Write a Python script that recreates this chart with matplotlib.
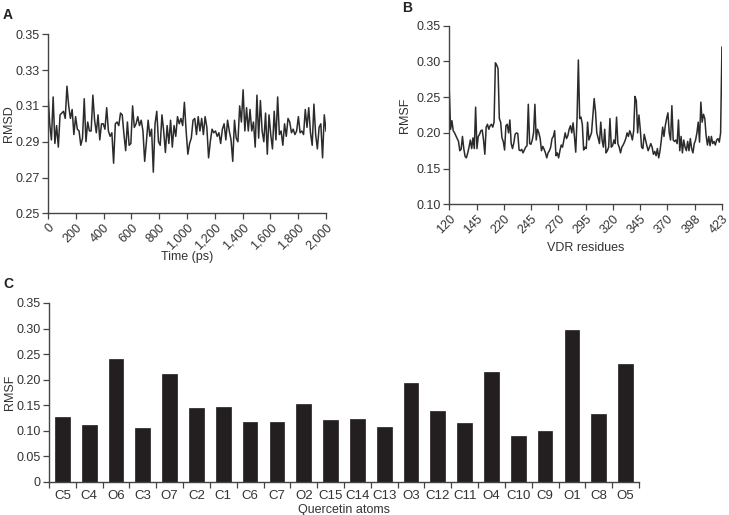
import matplotlib.pyplot as plt
import numpy as np
from matplotlib.ticker import FuncFormatter

# Panel A - RMSD vs time
rmsd = [0.317, 0.300, 0.291, 0.315, 0.289, 0.299, 0.287, 0.305, 0.306, 0.307,
        0.303, 0.321, 0.310, 0.303, 0.308, 0.294, 0.304, 0.297, 0.296,
        0.288, 0.292, 0.314, 0.290, 0.301, 0.296, 0.296, 0.316,
        0.302, 0.295, 0.305, 0.291, 0.300, 0.300, 0.297, 0.309, 0.296,
        0.293, 0.295, 0.278, 0.300, 0.301, 0.299, 0.306, 0.305, 0.294, 0.285,
        0.301, 0.288, 0.289, 0.310, 0.298, 0.300, 0.304, 0.299, 0.302, 0.296,
        0.279, 0.290, 0.302, 0.293, 0.297, 0.273, 0.300, 0.307, 0.290, 0.288,
        0.305, 0.296, 0.284, 0.299, 0.289, 0.302, 0.287, 0.299, 0.293, 0.304,
        0.300, 0.303, 0.299, 0.312, 0.296, 0.283, 0.289, 0.292, 0.302, 0.303,
        0.294, 0.304, 0.296, 0.303, 0.294, 0.304, 0.298, 0.281, 0.290, 0.297,
        0.295, 0.296, 0.293, 0.295, 0.289, 0.297, 0.300, 0.291, 0.302, 0.296,
        0.291, 0.279, 0.302, 0.292, 0.290, 0.310, 0.301, 0.319, 0.296, 0.309,
        0.296, 0.308, 0.296, 0.301, 0.287, 0.316, 0.292, 0.313, 0.296, 0.290,
        0.306, 0.283, 0.305, 0.294, 0.286, 0.307, 0.291, 0.315, 0.294, 0.296,
        0.288, 0.300, 0.293, 0.303, 0.301, 0.295, 0.297, 0.294, 0.296, 0.304,
        0.295, 0.296, 0.294, 0.308, 0.298, 0.309, 0.295, 0.288, 0.311, 0.294,
        0.286, 0.298, 0.300, 0.281, 0.305, 0.296]
time_ticks = [0, 200, 400, 600, 800, 1000, 1200, 1400, 1600, 1800, 2000]

# Panel B - RMSF per VDR residue
rmsf_res = [0.260, 0.205, 0.217, 0.203, 0.200, 0.196, 0.192, 0.188, 0.175, 0.177,
            0.195, 0.178, 0.167, 0.165, 0.172, 0.180,
            0.190, 0.178, 0.193, 0.178, 0.236, 0.178, 0.195, 0.198, 0.203, 0.204,
            0.190, 0.170, 0.208, 0.212, 0.205, 0.210, 0.212, 0.208, 0.215, 0.298,
            0.295, 0.290, 0.220, 0.215, 0.193, 0.188, 0.176, 0.210, 0.212, 0.200,
            0.218, 0.185, 0.178, 0.186, 0.198, 0.200, 0.199, 0.176, 0.175, 0.177,
            0.172, 0.176, 0.180, 0.182, 0.240, 0.185, 0.184,
            0.190, 0.200, 0.240, 0.190, 0.205, 0.200, 0.192, 0.175, 0.181, 0.177,
            0.172, 0.165, 0.172, 0.175, 0.180, 0.192, 0.195, 0.203, 0.168, 0.172,
            0.165, 0.175, 0.183, 0.180, 0.190, 0.200, 0.192, 0.196, 0.205, 0.210,
            0.200, 0.214, 0.195, 0.173, 0.220, 0.302, 0.220, 0.222, 0.212, 0.176,
            0.180, 0.178, 0.215, 0.190, 0.195, 0.200, 0.225, 0.248, 0.230, 0.200,
            0.193, 0.185, 0.215, 0.190, 0.180, 0.205, 0.172, 0.175, 0.180, 0.220,
            0.180, 0.182, 0.190, 0.185, 0.222, 0.185, 0.180, 0.172, 0.180, 0.183,
            0.187, 0.192, 0.200, 0.195, 0.203, 0.198, 0.190, 0.203, 0.251, 0.245,
            0.200, 0.225, 0.205, 0.180, 0.178, 0.198, 0.190, 0.182, 0.175, 0.180,
            0.185, 0.180, 0.170, 0.174, 0.168, 0.178, 0.165, 0.175, 0.190, 0.208,
            0.195, 0.210, 0.220, 0.228, 0.200, 0.190, 0.238, 0.190, 0.188, 0.190,
            0.185, 0.218, 0.175, 0.195, 0.172, 0.190, 0.180, 0.175, 0.188, 0.175,
            0.192, 0.178, 0.172, 0.185, 0.190, 0.200, 0.215, 0.187, 0.243, 0.215,
            0.226, 0.220, 0.196, 0.183, 0.195, 0.182, 0.195, 0.185, 0.188, 0.183,
            0.190, 0.192, 0.187, 0.200, 0.320]
res_labels = ["120", "145", "220", "245", "270", "295", "320", "345", "370", "398", "423"]

# Panel C - RMSF per quercetin atom
atoms = ["C5", "C4", "O6", "C3", "O7", "C2", "C1", "C6", "C7", "O2", "C15",
         "C14", "C13", "O3", "C12", "C11", "O4", "C10", "C9", "O1", "C8", "O5"]
rmsf_atoms = [0.127, 0.112, 0.240, 0.105, 0.212, 0.144, 0.146, 0.117, 0.117,
              0.153, 0.121, 0.124, 0.108, 0.194, 0.138, 0.115, 0.216, 0.089,
              0.099, 0.298, 0.133, 0.231]

plt.rcParams['font.family'] = ['Liberation Sans', 'DejaVu Sans']
ink = "#2b2b2b"
txt = "#333333"
fs = 9

fig = plt.figure(figsize=(7.29, 5.15), dpi=100)


def style(ax):
    for s in ["top", "right"]:
        ax.spines[s].set_visible(False)
    for s in ["left", "bottom"]:
        ax.spines[s].set_color("#444444")
        ax.spines[s].set_linewidth(1.0)
    ax.tick_params(colors="#444444", labelcolor=txt, labelsize=fs,
                   direction="out", length=4, width=0.9, pad=2)


# A
axA = fig.add_axes([0.0658, 0.5858, 0.3814, 0.3476])
t = np.linspace(0, 2000, len(rmsd))
axA.plot(t, rmsd, color=ink, lw=1.1)
axA.set_xlim(0, 2000)
axA.set_ylim(0.25, 0.35)
axA.set_yticks([0.25, 0.27, 0.29, 0.31, 0.33, 0.35])
axA.set_xticks(time_ticks)
axA.xaxis.set_major_formatter(FuncFormatter(lambda v, p: f"{int(v):,}"))
style(axA)
plt.setp(axA.get_xticklabels(), rotation=45, ha="right", rotation_mode="anchor")
axA.set_ylabel("RMSD", fontsize=fs, color=txt)
axA.yaxis.set_label_coords(-0.12, 0.5)
axA.set_xlabel("Time (ps)", fontsize=fs, color=txt, labelpad=-1)
fig.text(0.004, 0.985, "A", fontsize=10, fontweight="bold", va="top", color="#222222")

# B
axB = fig.add_axes([0.6163, 0.6033, 0.3740, 0.3468])
xb = np.arange(len(rmsf_res))
axB.plot(xb, rmsf_res, color=ink, lw=1.1)
axB.set_xlim(0, len(rmsf_res) - 1)
axB.set_ylim(0.10, 0.35)
axB.set_yticks([0.10, 0.15, 0.20, 0.25, 0.30, 0.35])
axB.yaxis.set_major_formatter(FuncFormatter(lambda v, p: f"{v:.2f}"))
axB.set_xticks(np.linspace(0, len(rmsf_res) - 1, len(res_labels)))
axB.set_xticklabels(res_labels)
style(axB)
plt.setp(axB.get_xticklabels(), rotation=45, ha="right", rotation_mode="anchor")
axB.set_ylabel("RMSF", fontsize=fs, color=txt)
axB.yaxis.set_label_coords(-0.14, 0.5)
axB.set_xlabel("VDR residues", fontsize=fs, color=txt, labelpad=4)
fig.text(0.551, 0.998, "B", fontsize=10, fontweight="bold", va="top", color="#222222")

# C
axC = fig.add_axes([0.0672, 0.0641, 0.8093, 0.3476])
xc = np.arange(len(atoms))
axC.bar(xc, rmsf_atoms, width=0.55, color="#231f20", edgecolor="#231f20", lw=0.5)
axC.set_xlim(-0.5, len(atoms) - 0.5)
axC.set_ylim(0, 0.35)
axC.set_yticks([0, 0.05, 0.10, 0.15, 0.20, 0.25, 0.30, 0.35])
axC.yaxis.set_major_formatter(FuncFormatter(lambda v, p: "0" if v == 0 else f"{v:.2f}"))
axC.set_xticks(np.arange(-0.5, len(atoms), 1.0))
axC.set_xticklabels([])
axC.set_xticks(xc, minor=True)
axC.set_xticklabels(atoms, minor=True,
                    family=['Liberation Sans Narrow', 'Liberation Sans', 'DejaVu Sans'])
style(axC)
axC.tick_params(axis="x", which="minor", length=0, pad=6, labelsize=9.5, labelcolor=txt)
axC.set_ylabel("RMSF", fontsize=fs, color=txt)
axC.yaxis.set_label_coords(-0.056, 0.5)
axC.set_xlabel("Quercetin atoms", fontsize=fs, color=txt, labelpad=1,
               family=['Liberation Sans Narrow', 'Liberation Sans', 'DejaVu Sans'])
fig.text(0.004, 0.462, "C", fontsize=10, fontweight="bold", va="top", color="#222222")

fig.savefig("out.png", dpi=100)
